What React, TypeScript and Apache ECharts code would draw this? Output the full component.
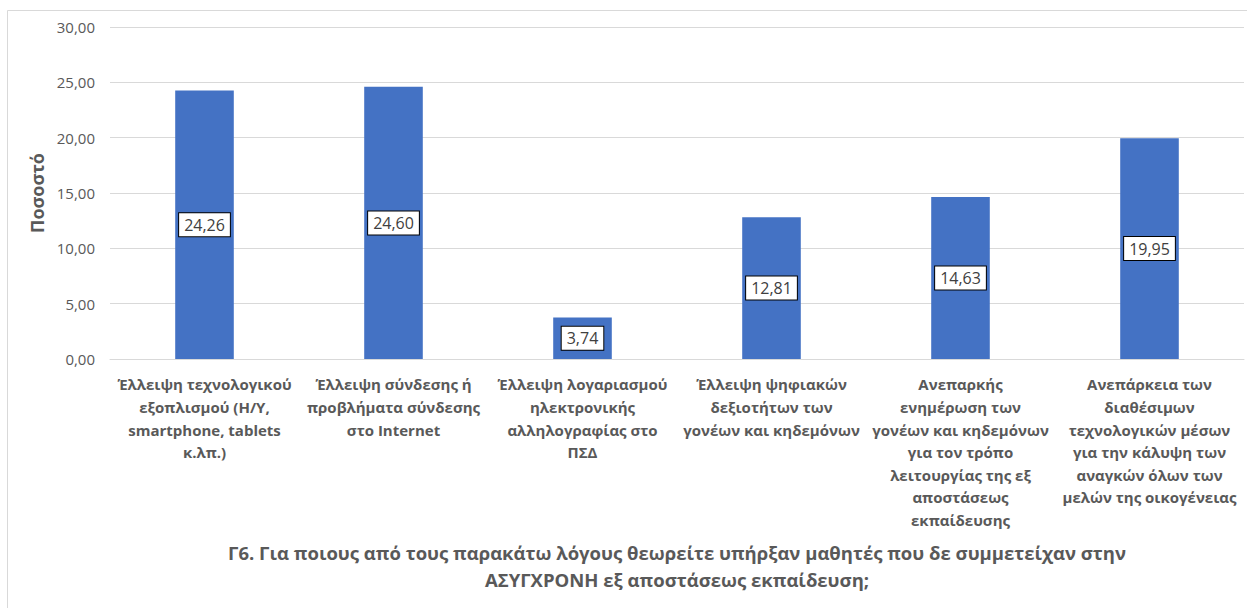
import React, { useEffect, useRef } from "react";
import * as echarts from "echarts";

const categories: string[] = [
  "Έλλειψη τεχνολογικού\nεξοπλισμού (Η/Υ,\nsmartphone, tablets\nκ.λπ.)",
  "Έλλειψη σύνδεσης ή\nπροβλήματα σύνδεσης\nστο Internet",
  "Έλλειψη λογαριασμού\nηλεκτρονικής\nαλληλογραφίας στο\nΠΣΔ",
  "Έλλειψη ψηφιακών\nδεξιοτήτων των\nγονέων και κηδεμόνων",
  "Ανεπαρκής\nενημέρωση των\nγονέων και κηδεμόνων\nγια τον τρόπο\nλειτουργίας της εξ\nαποστάσεως\nεκπαίδευσης",
  "Ανεπάρκεια των\nδιαθέσιμων\nτεχνολογικών μέσων\nγια την κάλυψη των\nαναγκών όλων των\nμελών της οικογένειας",
];
const values: number[] = [24.26, 24.6, 3.74, 12.81, 14.63, 19.95];
const yAxisName = "Ποσοστό";
const titleText =
  "Γ6. Για ποιους από τους παρακάτω λόγους θεωρείτε υπήρξαν μαθητές που δε συμμετείχαν στην\nΑΣΥΓΧΡΟΝΗ εξ αποστάσεως εκπαίδευση;";

const FONT = "'Open Sans', 'Noto Sans', sans-serif";
const fmt = (v: number) => v.toFixed(2).replace(".", ",");

export default function App() {
  const ref = useRef<HTMLDivElement>(null);
  useEffect(() => {
    if (!ref.current) return;
    const chart = echarts.init(ref.current, null, { renderer: "svg" });
    chart.setOption({
      animation: false,
      backgroundColor: "#ffffff",
      textStyle: { fontFamily: FONT },
      grid: { left: 110, right: 3, top: 27, bottom: 249, containLabel: false },
      xAxis: {
        type: "category",
        data: categories,
        axisLine: { show: true, lineStyle: { color: "#d9d9d9" } },
        axisTick: { show: false },
        axisLabel: {
          interval: 0,
          color: "#595959",
          fontFamily: FONT,
          fontSize: 15,
          fontWeight: "bold",
          lineHeight: 22.6,
          margin: 14,
          align: "center",
        },
      },
      yAxis: {
        type: "value",
        min: 0,
        max: 30,
        interval: 5,
        name: yAxisName,
        nameLocation: "middle",
        nameGap: 61,
        nameTextStyle: { color: "#595959", fontSize: 18, fontWeight: "bold", fontFamily: FONT },
        axisLine: { show: false },
        axisTick: { show: false },
        axisLabel: {
          color: "#595959",
          fontSize: 15,
          fontFamily: FONT,
          margin: 15,
          formatter: (v: number) => fmt(v),
        },
        splitLine: { lineStyle: { color: "#d9d9d9", width: 1 } },
      },
      series: [
        {
          type: "bar",
          data: values,
          barWidth: "31%",
          itemStyle: { color: "#4472c4" },
          label: {
            show: true,
            position: "inside",
            formatter: (p: any) => fmt(p.value),
            color: "#404040",
            fontSize: 16,
            fontFamily: FONT,
            backgroundColor: "#ffffff",
            borderColor: "#000000",
            borderWidth: 1,
            padding: [4, 5, 3, 5],
          },
        },
      ],
      graphic: [
        {
          type: "rect",
          shape: { x: 7.5, y: 10.5, width: 1245, height: 610 },
          style: { fill: "none", stroke: "#d9d9d9", lineWidth: 1 },
          silent: true,
          z: -1,
        },
        {
          type: "text",
          x: 677,
          y: 539,
          style: {
            text: titleText,
            fill: "#595959",
            font: `bold 18.5px ${FONT}`,
            textAlign: "center",
            lineHeight: 27,
          },
        },
      ],
    });
    return () => chart.dispose();
  }, []);
  return (
    <div
      ref={ref}
      style={{ position: "fixed", left: 0, top: 0, width: 1247, height: 608 }}
    />
  );
}
